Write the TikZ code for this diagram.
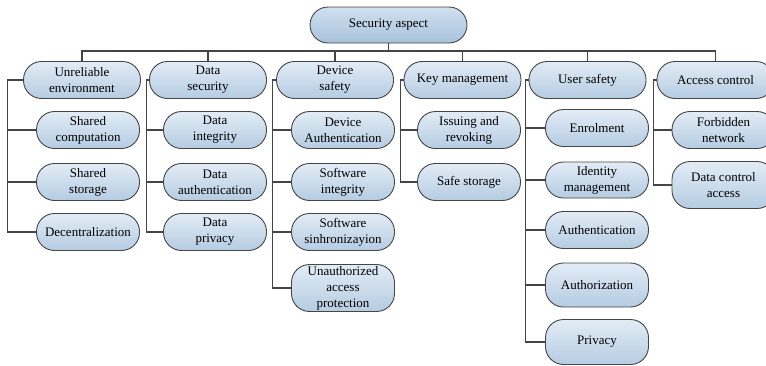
\documentclass[tikz,border=0pt]{standalone}
\usepackage{fontspec}
\setmainfont{Liberation Serif}
\definecolor{boxtop}{HTML}{E2ECF6}
\definecolor{boxbot}{HTML}{B5CCE2}
\definecolor{roottop}{HTML}{D0E0EF}
\definecolor{rootbot}{HTML}{A8C2DC}
\definecolor{edgegray}{HTML}{454545}

\begin{document}
\begin{tikzpicture}[x=1pt,y=-1pt,
            block/.style={draw=edgegray,line width=0.9pt,rounded corners=18pt,top color=boxtop,bottom color=boxbot,align=center,inner sep=1pt,font=\fontsize{13}{16}\selectfont},
            rootbox/.style={block,top color=roottop,bottom color=rootbot,minimum width=157pt,minimum height=36pt},
            group/.style={block,minimum width=117pt,minimum height=37pt},
            item/.style={block,minimum width=103pt,minimum height=37pt},
            link/.style={draw=edgegray,line width=1.1pt}
          ]
          \useasboundingbox (0,0) rectangle (766,365);
          \node[rootbox] (root) at (388.5,25) {Security aspect};
          \coordinate (bus) at (0,51);

          %first level
          \node[group] (env) at (82,80) {Unreliable\\environment};
          \node[group] (dsec) at (208,80) {Data\\security};
          \node[group] (dev) at (335,80) {Device\\safety};
          \node[group] (key) at (462.5,80) {Key management};
          \node[group] (user) at (587.5,80) {User safety};
          \node[group] (acc) at (715.5,80) {Access control};

          %unreliable environment
          \node[item] (env1) at (88,130) {Shared\\computation};
          \node[item] (env2) at (88,182) {Shared\\storage};
          \node[item] (env3) at (88,232) {Decentralization};

          %data security
          \node[item] (ds1) at (215,130) {Data\\integrity};
          \node[item] (ds2) at (215,182) {Data\\authentication};
          \node[item] (ds3) at (215,232) {Data\\privacy};

          %device safety
          \node[item] (dv1) at (343,130) {Device\\Authentication};
          \node[item] (dv2) at (343,182) {Software\\integrity};
          \node[item] (dv3) at (343,232) {Software\\sinhronizayion};
          \node[item,minimum height=47pt] (dv4) at (343,288) {Unauthorized\\access\\protection};

          %key management
          \node[item] (km1) at (469,130) {Issuing and\\revoking};
          \node[item] (km2) at (469,182) {Safe storage};

          %user safety
          \node[item] (us1) at (597,128) {Enrolment};
          \node[item,minimum height=36pt] (us2) at (597,180) {Identity\\management};
          \node[item] (us3) at (597,230) {Authentication};
          \node[item,minimum height=44pt] (us4) at (597,285) {Authorization};
          \node[item,minimum height=45pt] (us5) at (597,342) {Privacy};

          %access control
          \node[item] (ac1) at (723.5,130) {Forbidden\\network};
          \node[item,minimum height=47pt] (ac2) at (723.5,185) {Data control\\access};

          %tree lines
          \draw[link] (root.south) -- (root.south |- bus) -| (env.north);
          \draw[link] (root.south) -- (root.south |- bus) -| (dsec.north);
          \draw[link] (root.south) -- (root.south |- bus) -| (dev.north);
          \draw[link] (root.south) -- (root.south |- bus) -| (key.north);
          \draw[link] (root.south) -- (root.south |- bus) -| (user.north);
          \draw[link] (root.south) -- (root.south |- bus) -| (acc.north);

          \draw[link] (env.west) -- ++(-16,0) |- (env1.west);
          \draw[link] (env.west) -- ++(-16,0) |- (env2.west);
          \draw[link] (env.west) -- ++(-16,0) |- (env3.west);
          \draw[link] (dsec.west) -- ++(-3,0) |- (ds1.west);
          \draw[link] (dsec.west) -- ++(-3,0) |- (ds2.west);
          \draw[link] (dsec.west) -- ++(-3,0) |- (ds3.west);
          \draw[link] (dev.west) -- ++(-4,0) |- (dv1.west);
          \draw[link] (dev.west) -- ++(-4,0) |- (dv2.west);
          \draw[link] (dev.west) -- ++(-4,0) |- (dv3.west);
          \draw[link] (dev.west) -- ++(-4,0) |- (dv4.west);
          \draw[link] (key.west) -- ++(-3,0) |- (km1.west);
          \draw[link] (key.west) -- ++(-3,0) |- (km2.west);
          \draw[link] (user.west) -- ++(-3,0) |- (us1.west);
          \draw[link] (user.west) -- ++(-3,0) |- (us2.west);
          \draw[link] (user.west) -- ++(-3,0) |- (us3.west);
          \draw[link] (user.west) -- ++(-3,0) |- (us4.west);
          \draw[link] (user.west) -- ++(-3,0) |- (us5.west);
          \draw[link] (acc.west) -- ++(-3,0) |- (ac1.west);
          \draw[link] (acc.west) -- ++(-3,0) |- (ac2.west);
      \end{tikzpicture}
\end{document}
